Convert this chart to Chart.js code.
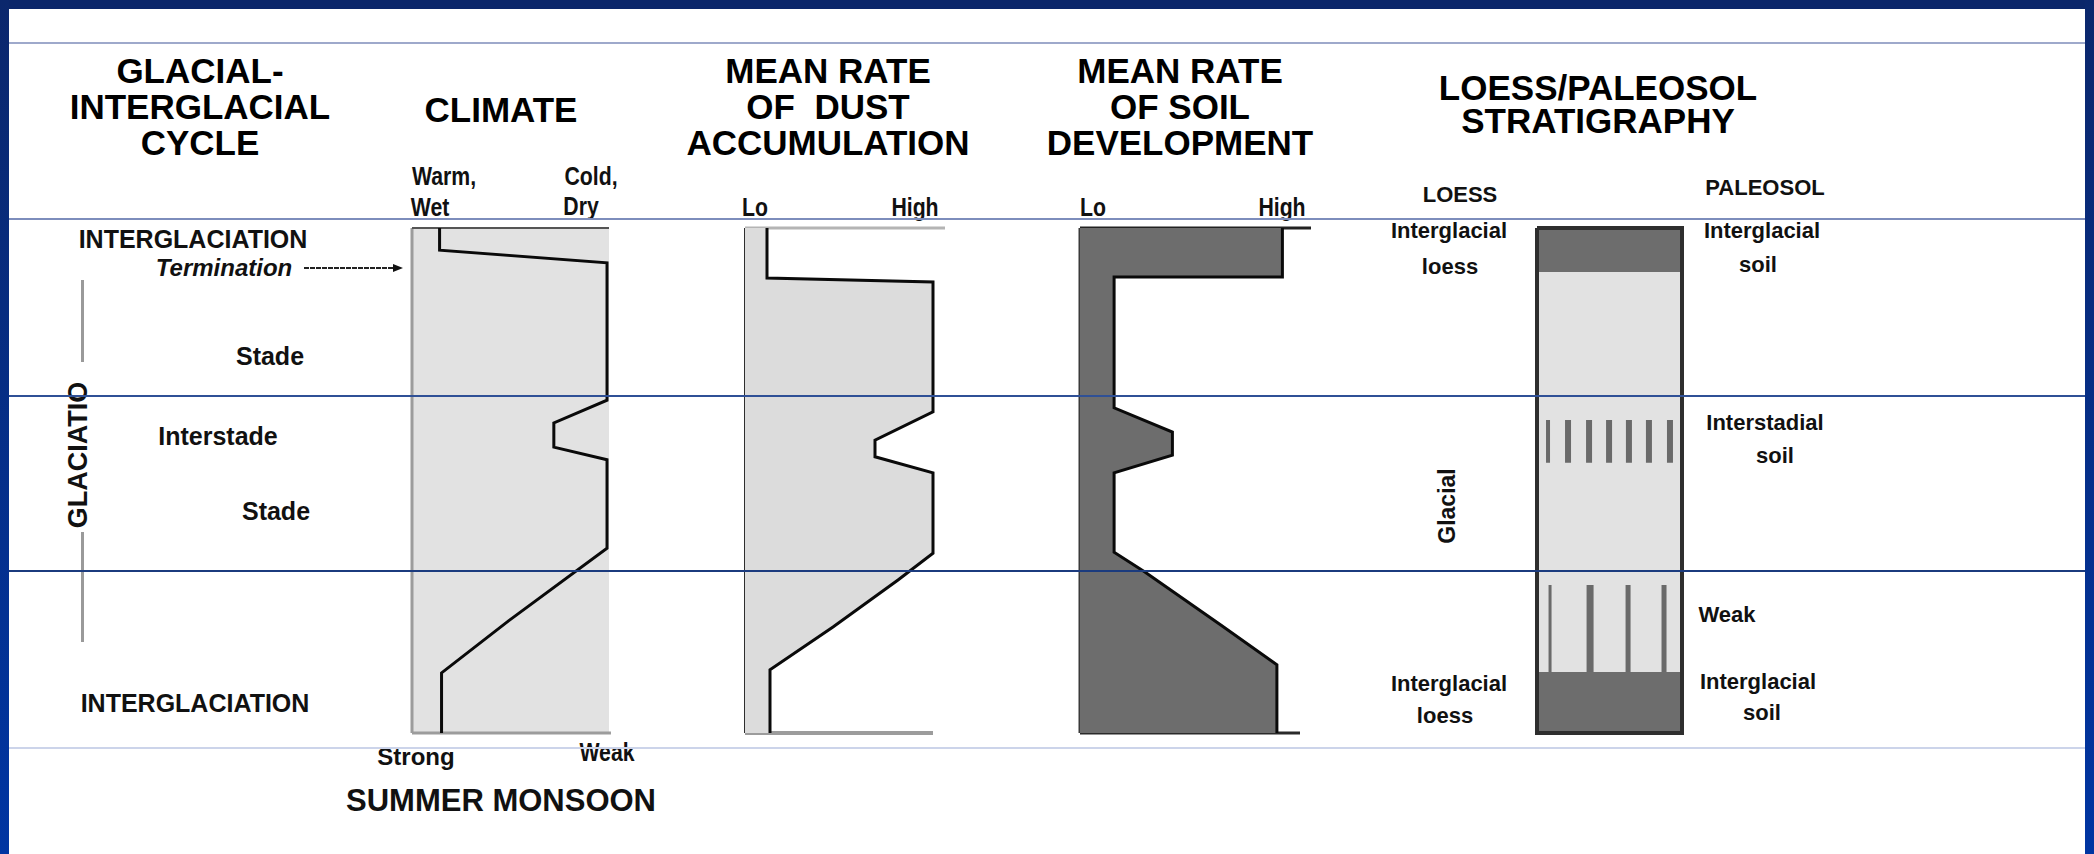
<!DOCTYPE html>
<html>
<head>
<meta charset="utf-8">
<title>Glacial-interglacial cycle, loess/paleosol</title>
<script src="https://cdn.jsdelivr.net/npm/chart.js"></script>
<style>
  html, body { margin: 0; padding: 0; }
  body { width: 2094px; height: 854px; position: relative; overflow: hidden; background: #fff;
         font-family: "Liberation Sans", Arial, sans-serif; color: #111; }
  .frame { position: absolute; background: linear-gradient(#0b276c, #0035a2); }
  .rule { position: absolute; left: 9px; width: 2076px; height: 2px; z-index: 10; }
  .hd { position: absolute; font-weight: bold; font-size: 35px; line-height: 36px; text-align: center; color: #000; white-space: nowrap; }
  .lb { position: absolute; font-weight: bold; line-height: 1; white-space: nowrap; transform: translate(-50%, -50%); }
  .cn { transform: translate(-50%, -50%) scaleX(0.85); }
  .rot { transform: translate(-50%, -50%) rotate(-90deg); }
  canvas.panel { position: absolute; }
  .vbar { position: absolute; left: 81px; width: 3px; background: #9a9a9a; }
</style>
</head>
<body>
<!-- slide frame -->
<div class="frame" style="left:0;top:0;width:2094px;height:9px;background:#0b266a"></div>
<div class="frame" style="left:0;top:0;width:9px;height:854px"></div>
<div class="frame" style="left:2085px;top:0;width:9px;height:854px"></div>

<!-- column headings -->
<div class="hd" style="left:50px;top:53px;width:300px">GLACIAL-<br>INTERGLACIAL<br>CYCLE</div>
<div class="hd" style="left:401px;top:92px;width:200px">CLIMATE</div>
<div class="hd" style="left:668px;top:53px;width:320px">MEAN RATE<br>OF&nbsp; DUST<br>ACCUMULATION</div>
<div class="hd" style="left:1020px;top:53px;width:320px">MEAN RATE<br>OF SOIL<br>DEVELOPMENT</div>
<div class="hd" style="left:1418px;top:71px;width:360px;line-height:33px">LOESS/PALEOSOL<br>STRATIGRAPHY</div>

<!-- axis end labels -->
<div class="lb cn" style="left:444px;top:176px;font-size:25px">Warm,</div>
<div class="lb cn" style="left:430px;top:207px;font-size:25px">Wet</div>
<div class="lb cn" style="left:591px;top:176px;font-size:25px">Cold,</div>
<div class="lb cn" style="left:581px;top:206px;font-size:25px">Dry</div>
<div class="lb cn" style="left:755px;top:207px;font-size:25px">Lo</div>
<div class="lb cn" style="left:915px;top:207px;font-size:25px">High</div>
<div class="lb cn" style="left:1093px;top:207px;font-size:25px">Lo</div>
<div class="lb cn" style="left:1282px;top:207px;font-size:25px">High</div>
<div class="lb" style="left:1460px;top:195px;font-size:22px">LOESS</div>
<div class="lb" style="left:1765px;top:188px;font-size:22px">PALEOSOL</div>

<!-- cycle labels -->
<div class="lb" style="left:193px;top:239px;font-size:25px">INTERGLACIATION</div>
<div class="lb" style="left:224px;top:268px;font-size:24px;font-style:italic">Termination</div>
<svg style="position:absolute;left:300px;top:260px" width="110" height="16">
  <line x1="4" y1="8" x2="95" y2="8" stroke="#222" stroke-width="2" stroke-dasharray="5 1"/>
  <polygon points="93,4 103,8 93,12" fill="#111"/>
</svg>
<div class="lb" style="left:270px;top:356px;font-size:25px">Stade</div>
<div class="lb" style="left:218px;top:436px;font-size:25px">Interstade</div>
<div class="lb" style="left:276px;top:511px;font-size:25px">Stade</div>
<div class="lb" style="left:195px;top:703px;font-size:25px">INTERGLACIATION</div>
<div class="lb rot" style="left:78px;top:455px;font-size:27px">GLACIATIO</div>
<div class="vbar" style="top:280px;height:82px"></div>
<div class="vbar" style="top:532px;height:110px"></div>

<!-- monsoon axis -->
<div class="lb" style="left:416px;top:757px;font-size:24px">Strong</div>
<div class="lb cn" style="left:607px;top:752px;font-size:25px">Weak</div>
<div class="lb" style="left:501px;top:800px;font-size:31px">SUMMER MONSOON</div>

<!-- stratigraphy labels -->
<div class="lb" style="left:1449px;top:231px;font-size:22px">Interglacial</div>
<div class="lb" style="left:1450px;top:267px;font-size:22px">loess</div>
<div class="lb" style="left:1762px;top:231px;font-size:22px">Interglacial</div>
<div class="lb" style="left:1758px;top:265px;font-size:22px">soil</div>
<div class="lb" style="left:1765px;top:423px;font-size:22px">Interstadial</div>
<div class="lb" style="left:1775px;top:456px;font-size:22px">soil</div>
<div class="lb rot" style="left:1447px;top:506px;font-size:23px">Glacial</div>
<div class="lb" style="left:1727px;top:615px;font-size:22px">Weak</div>
<div class="lb" style="left:1449px;top:684px;font-size:22px">Interglacial</div>
<div class="lb" style="left:1445px;top:716px;font-size:22px">loess</div>
<div class="lb" style="left:1758px;top:682px;font-size:22px">Interglacial</div>
<div class="lb" style="left:1762px;top:713px;font-size:22px">soil</div>

<canvas class="panel" id="climateChart"></canvas>
<canvas class="panel" id="dustChart"></canvas>
<canvas class="panel" id="soilChart"></canvas>
<canvas class="panel" id="stratChart"></canvas>

<!-- slide template rules (drawn over the figure) -->
<div class="rule" style="top:42px;background:#9ea9cb"></div>
<div class="rule" style="top:218px;background:#7d8dbc"></div>
<div class="rule" style="top:395px;background:#2f5096"></div>
<div class="rule" style="top:570px;background:#1b3b7e"></div>
<div class="rule" style="top:747px;background:#ccd4ea"></div>

<script>
// depth down the section: 0 = top (interglaciation), 100 = base (interglaciation)
const climateDepth = [0, 4.4, 6.9, 34.1, 38.6, 43.4, 45.9, 63.4, 77.8, 88.1, 100];
// 0 = warm/wet (strong monsoon), 1 = cold/dry (weak monsoon)
const climateValue = [0.14, 0.14, 0.99, 0.99, 0.72, 0.72, 0.99, 0.99, 0.49, 0.15, 0.15];

// 0 = lo, 1 = high
const dustDepth = [0, 9.9, 10.7, 36.4, 42.0, 45.3, 48.5, 64.4, 69.7, 79.0, 87.5, 100];
const dustValue = [0.11, 0.11, 0.94, 0.94, 0.65, 0.65, 0.94, 0.94, 0.765, 0.44, 0.125, 0.125];

const soilDepth = [0, 9.7, 9.7, 35.6, 40.4, 45.0, 48.5, 64.2, 68.1, 78.6, 86.5, 100];
const soilValue = [0.92, 0.92, 0.155, 0.155, 0.42, 0.42, 0.155, 0.155, 0.295, 0.64, 0.895, 0.895];

// loess / paleosol column
const stratTop = [0, 8.7, 87.9];
const stratBase = [8.7, 87.9, 100];
const stratUnit = ["soil", "loess", "soil"];
const interstadialBars = [0.076, 0.214, 0.359, 0.497, 0.634, 0.772, 0.917];
const interstadialSpan = [38.0, 46.5];
const weakBars = [0.09, 0.366, 0.628, 0.876];
const weakSpan = [70.7, 87.9];

document.addEventListener("DOMContentLoaded", function () {
  const colors = {
    line: "#0a0a0a",
    paleGray: "#e2e2e2",
    dustGray: "#dcdcdc",
    soilGray: "#6d6d6d",
    hatch: "#6a6a6a",
    edgeLight: "#9c9c9c",
    edgeDark: "#2e2e2e",
  };
  const PAD = 16;

  // box of each panel on the page (left, right, top, bottom)
  const boxes = {
    climateChart: [412, 609, 228, 733],
    dustChart: [745, 945, 228, 733],
    soilChart: [1080, 1300, 228, 733],
    stratChart: [1537, 1682, 228, 733],
  };

  function pts(xs, ys) {
    return xs.map((x, i) => ({ x: x, y: ys[i] }));
  }

  function edge(points, color, width, order) {
    return {
      data: points,
      borderColor: color,
      borderWidth: width,
      borderCapStyle: "butt",
      fill: false,
      clip: false,
      order: order || 3,
    };
  }

  // a rectangle from x = 0 to x = right, between two depths
  function block(top, base, color, right) {
    const r = right === undefined ? 1 : right;
    return {
      data: [{ x: r, y: top }, { x: r, y: base }],
      borderWidth: 0,
      backgroundColor: color,
      fill: { value: 0 },
      order: 6,
    };
  }

  function profile(xs, ys, fillColor) {
    return {
      data: pts(xs, ys),
      borderColor: colors.line,
      borderWidth: 3,
      borderJoinStyle: "miter",
      backgroundColor: fillColor || "transparent",
      fill: fillColor ? { value: 0 } : false,
      clip: false,
      order: 1,
    };
  }

  function makePanel(id, datasets) {
    const canvas = document.getElementById(id);
    const b = boxes[id];
    canvas.width = b[1] - b[0] + 2 * PAD;
    canvas.height = b[3] - b[2] + 2 * PAD;
    canvas.style.left = b[0] - PAD + "px";
    canvas.style.top = b[2] - PAD + "px";

    new Chart(canvas, {
      type: "line",
      data: { datasets: datasets },
      options: {
        indexAxis: "y",
        responsive: false,
        animation: false,
        layout: { padding: PAD },
        elements: { point: { radius: 0 }, line: { tension: 0 } },
        plugins: { legend: { display: false }, tooltip: { enabled: false } },
        scales: {
          x: { type: "linear", min: 0, max: 1, display: false },
          y: { type: "linear", min: 0, max: 100, reverse: true, display: false },
        },
      },
    });
  }

  function initClimate() {
    makePanel("climateChart", [
      profile(climateValue, climateDepth),
      edge([{ x: 0, y: 0 }, { x: 1, y: 0 }], "#555", 2),
      edge([{ x: 0, y: 0 }, { x: 0, y: 100 }], colors.edgeLight, 3),
      edge([{ x: 0, y: 100 }, { x: 1.01, y: 100 }], colors.edgeLight, 3),
      block(0, 100, colors.paleGray),
    ]);
  }

  function initDust() {
    makePanel("dustChart", [
      profile(dustValue, dustDepth, colors.dustGray),
      edge([{ x: 0, y: 0 }, { x: 1, y: 0 }], "#b4b4b4", 3, 4),
      edge([{ x: 0, y: 0 }, { x: 0, y: 100 }], colors.edgeDark, 2),
      edge([{ x: 0, y: 100 }, { x: 0.94, y: 100 }], colors.edgeLight, 4),
    ]);
  }

  function initSoil() {
    makePanel("soilChart", [
      profile(soilValue, soilDepth, colors.soilGray),
      edge([{ x: 0, y: 0 }, { x: 1.05, y: 0 }], "#222", 3),
      edge([{ x: 0, y: 0 }, { x: 0, y: 100 }], "#3a3a3a", 3),
      edge([{ x: 0, y: 100 }, { x: 1, y: 100 }], "#2a2a2a", 3),
    ]);
  }

  function initStrat() {
    const sets = [];
    stratUnit.forEach((unit, i) => {
      sets.push(block(stratTop[i], stratBase[i], unit === "soil" ? colors.soilGray : colors.paleGray));
    });
    interstadialBars.forEach((x, i) => {
      sets.push(edge([{ x: x, y: interstadialSpan[0] }, { x: x, y: interstadialSpan[1] }],
        colors.hatch, i === 0 ? 4 : 6));
    });
    const weakWidths = [3, 7, 5, 5];
    weakBars.forEach((x, i) => {
      sets.push(edge([{ x: x, y: weakSpan[0] }, { x: x, y: weakSpan[1] }], colors.hatch, weakWidths[i]));
    });
    // column outline
    sets.push(edge([{ x: 0, y: 0 }, { x: 1, y: 0 }, { x: 1, y: 100 }, { x: 0, y: 100 }, { x: 0, y: 0 }],
      colors.edgeDark, 4, 1));
    makePanel("stratChart", sets);
  }

  initClimate();
  initDust();
  initSoil();
  initStrat();
});
</script>
</body>
</html>
